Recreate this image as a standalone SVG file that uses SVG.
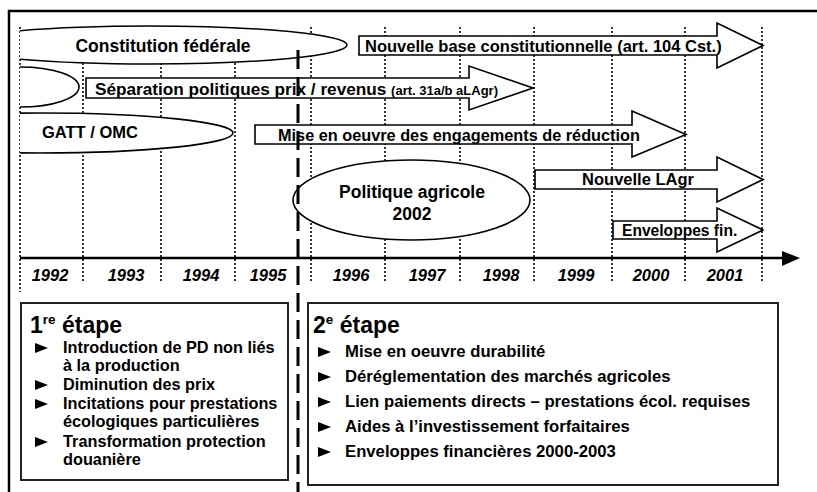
<svg xmlns="http://www.w3.org/2000/svg" width="817" height="492" viewBox="0 0 817 492">
<defs>
<style>
.t{font-family:"Liberation Sans",Arial,sans-serif;font-weight:bold;fill:#000}
.lab{font-size:16.5px}
.yr{font-size:16.5px;font-style:italic}
.li{font-size:16.3px}
.li2{font-size:16.7px}
.dot{stroke:#000;stroke-width:1.6;stroke-dasharray:2 2;fill:none}
.shp{fill:#fff;stroke:#000;stroke-width:1.6}
.box{fill:#fff;stroke:#222;stroke-width:2}
</style>
<clipPath id="c"><rect x="20" y="0" width="800" height="492"/></clipPath>
<polygon id="bul" points="0,-5 13,0 0,5"/>
</defs>
<rect x="9" y="11" width="830" height="510" fill="#fff" stroke="#000" stroke-width="2.5"/>
<g id="grid">
<line class="dot" x1="20" y1="27" x2="20" y2="292"/>
<line class="dot" x1="83" y1="27" x2="83" y2="282"/>
<line class="dot" x1="161" y1="27" x2="161" y2="282"/>
<line class="dot" x1="235" y1="27" x2="235" y2="282"/>
<line class="dot" x1="311" y1="27" x2="311" y2="282"/>
<line class="dot" x1="385" y1="27" x2="385" y2="282"/>
<line class="dot" x1="460" y1="27" x2="460" y2="282"/>
<line class="dot" x1="534" y1="27" x2="534" y2="282"/>
<line class="dot" x1="612" y1="27" x2="612" y2="282"/>
<line class="dot" x1="685" y1="27" x2="685" y2="282"/>
<line class="dot" x1="762" y1="27" x2="762" y2="282"/>
</g>
<g id="axis">
<line x1="20" y1="258" x2="785" y2="258" stroke="#000" stroke-width="2.5"/>
<polygon points="782,251 800,258 782,266" fill="#000"/>
</g>
<g id="years" class="t yr" text-anchor="middle">
<text x="50" y="281">1992</text>
<text x="126" y="281">1993</text>
<text x="201" y="281">1994</text>
<text x="268" y="281">1995</text>
<text x="351" y="281">1996</text>
<text x="427" y="281">1997</text>
<text x="501" y="281">1998</text>
<text x="576" y="281">1999</text>
<text x="651" y="281">2000</text>
<text x="725" y="281">2001</text>
</g>
<g id="constitution" clip-path="url(#c)">
<ellipse class="shp" cx="150" cy="45" rx="197" ry="19"/>
<text class="t lab" x="163" y="52" text-anchor="middle" style="font-size:17.5px">Constitution fédérale</text>
</g>
<g id="left-ellipse" clip-path="url(#c)">
<ellipse class="shp" cx="20" cy="87" rx="59" ry="20"/>
</g>
<g id="gatt" clip-path="url(#c)">
<ellipse class="shp" cx="40" cy="133" rx="193" ry="20"/>
<text class="t lab" x="42" y="138">GATT / OMC</text>
</g>
<g id="pa2002">
<ellipse class="shp" cx="411.5" cy="200" rx="118.5" ry="40"/>
<text class="t lab" x="412" y="198" text-anchor="middle" style="font-size:17.5px">Politique agricole</text>
<text class="t lab" x="412" y="220" text-anchor="middle" style="font-size:17.5px">2002</text>
</g>
<g id="nouvelle-base">
<polygon class="shp" points="359,36 717,36 717,23 763,45.5 717,68 717,55 359,55"/>
<text class="t lab" x="365" y="52">Nouvelle base constitutionnelle (art. 104 Cst.)</text>
</g>
<g id="separation">
<polygon class="shp" points="86,78 469,78 469,66 533,88 469,110 469,98 86,98"/>
<text class="t lab" x="95" y="95" style="font-size:17.2px">Séparation politiques prix / revenus <tspan style="font-size:13px">(art. 31a/b aLAgr)</tspan></text>
</g>
<g id="mise-en-oeuvre">
<polygon class="shp" points="255,125 632,125 632,111 686,134.5 632,157 632,144 255,144"/>
<text class="t lab" x="278" y="141" style="font-size:16.3px">Mise en oeuvre des engagements de réduction</text>
</g>
<g id="nouvelle-lagr">
<polygon class="shp" points="535,170 717,170 717,157 763,179.5 717,202 717,189 535,189"/>
<text class="t lab" x="638" y="185" text-anchor="middle">Nouvelle LAgr</text>
</g>
<g id="enveloppes">
<polygon class="shp" points="613,221 717,221 717,208 763,230 717,252 717,239 613,239"/>
<text class="t lab" x="622" y="236" style="font-size:15.6px">Enveloppes fin.</text>
</g>
<g id="divider">
<line x1="298" y1="50" x2="298" y2="492" stroke="#000" stroke-width="3" stroke-dasharray="19 8"/>
</g>
<g id="etape1">
<rect class="box" x="21" y="303" width="267" height="177"/>
<text class="t" x="30" y="333" style="font-size:23px">1<tspan dy="-9" style="font-size:13.5px">re</tspan><tspan dy="9"> étape</tspan></text>
<use href="#bul" x="35" y="348"/>
<use href="#bul" x="35" y="385"/>
<use href="#bul" x="35" y="404"/>
<use href="#bul" x="35" y="442"/>
<g class="t li">
<text x="63" y="353">Introduction de PD non liés</text>
<text x="63" y="371">à la production</text>
<text x="63" y="390">Diminution des prix</text>
<text x="63" y="409">Incitations pour prestations</text>
<text x="63" y="427">écologiques particulières</text>
<text x="63" y="447">Transformation protection</text>
<text x="63" y="465">douanière</text>
</g>
</g>
<g id="etape2">
<rect class="box" x="308" y="303" width="470" height="182"/>
<text class="t" x="313" y="333" style="font-size:23px">2<tspan dy="-9" style="font-size:13.5px">e</tspan><tspan dy="9"> étape</tspan></text>
<use href="#bul" x="318" y="352"/>
<use href="#bul" x="318" y="377"/>
<use href="#bul" x="318" y="402"/>
<use href="#bul" x="318" y="427"/>
<use href="#bul" x="318" y="452"/>
<g class="t li2">
<text x="345" y="357">Mise en oeuvre durabilité</text>
<text x="345" y="382">Déréglementation des marchés agricoles</text>
<text x="345" y="407">Lien paiements directs – prestations écol. requises</text>
<text x="345" y="432">Aides à l’investissement forfaitaires</text>
<text x="345" y="457">Enveloppes financières 2000-2003</text>
</g>
</g>
</svg>
